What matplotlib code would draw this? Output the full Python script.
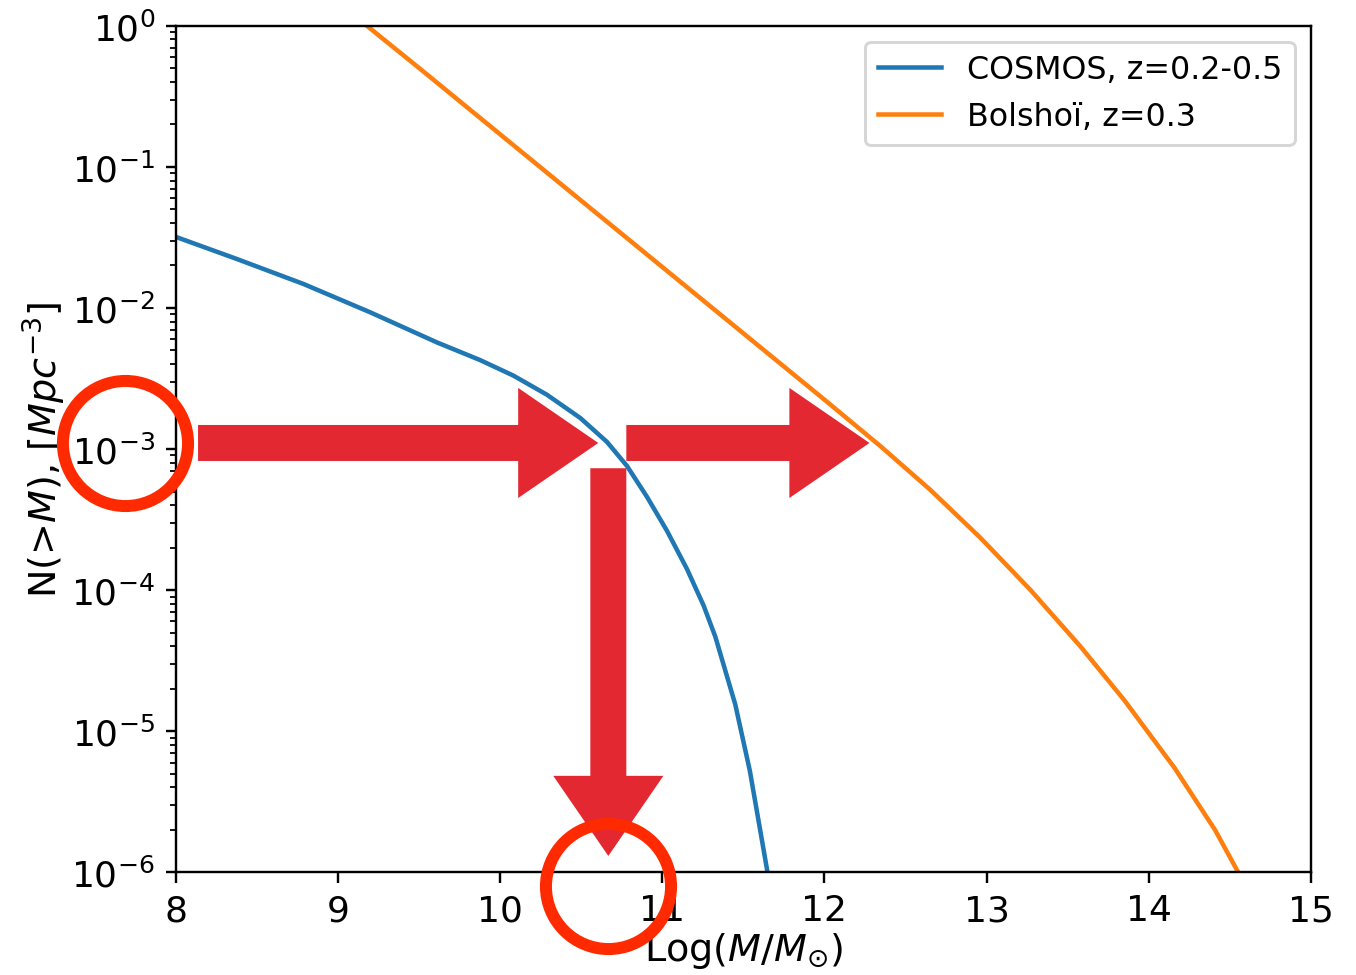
import numpy as np
import matplotlib
matplotlib.use("Agg")
from matplotlib import pyplot as plt
from matplotlib.patches import FancyArrowPatch

# cumulative number density, log10 values
cosmos_logm = [8.0, 8.375, 8.786, 9.198, 9.609, 9.877, 10.082, 10.288, 10.494, 10.659,
               10.782, 10.906, 11.029, 11.152, 11.255, 11.327, 11.45, 11.54, 11.646, 11.70]
cosmos_logn = [-1.497, -1.653, -1.830, -2.031, -2.244, -2.37, -2.48, -2.615, -2.78, -2.95,
               -3.12, -3.34, -3.58, -3.85, -4.11, -4.33, -4.81, -5.28, -5.98, -6.35]

bolshoi_logm = [9.0, 9.177, 9.5, 10.0, 10.5, 11.0, 11.5, 12.0, 12.346, 12.654,
                12.963, 13.272, 13.58, 13.85, 14.16, 14.41, 14.548, 14.65]
bolshoi_logn = [0.165, 0.0, -0.30, -0.77, -1.24, -1.71, -2.18, -2.65, -2.98, -3.29,
                -3.63, -4.00, -4.40, -4.78, -5.26, -5.70, -5.99, -6.22]

labels = ["COSMOS, z=0.2-0.5", "Bolshoï, z=0.3"]

# annotation positions (data units)
level = 10 ** -2.957
arrow_right1 = (8.136, 10.605)
arrow_right2 = (10.778, 12.278)
arrow_down_x = 10.667
arrow_down_y = (10 ** -3.136, 10 ** -5.884)
circle_pts = [(7.685, level), (10.667, 10 ** -6.10)]

DPI = 216
fig = plt.figure(figsize=(1356 / DPI, 976 / DPI), dpi=DPI)
ax = fig.add_axes([0.1298, 0.1052, 0.8368, 0.8674])

ax.plot(cosmos_logm, 10 ** np.array(cosmos_logn), color="C0", lw=1.5, label=labels[0])
ax.plot(bolshoi_logm, 10 ** np.array(bolshoi_logn), color="C1", lw=1.5, label=labels[1])

ax.set_yscale("log")
ax.set_xlim(8, 15)
ax.set_ylim(1e-6, 1)
ax.set_xticks(range(8, 16))
ax.tick_params(labelsize=12)
ax.set_xlabel(r"Log($M/M_{\odot}$)", fontsize=12.7, labelpad=1)
ax.set_ylabel(r"N(>$M$), [$Mpc^{-3}$]", fontsize=12.7, labelpad=1)
ax.legend(loc="upper right", fontsize=10.6)

red = "#e32832"
style = "simple,head_length=26.7,head_width=36.7,tail_width=12"
arrows = [((arrow_right1[0], level), (arrow_right1[1], level)),
          ((arrow_right2[0], level), (arrow_right2[1], level)),
          ((arrow_down_x, arrow_down_y[0]), (arrow_down_x, arrow_down_y[1]))]
for tail, tip in arrows:
    ax.add_patch(FancyArrowPatch(tail, tip, arrowstyle=style, mutation_scale=1,
                                 shrinkA=0, shrinkB=0, color=red, lw=0,
                                 zorder=4, clip_on=False))

for cx, cy in circle_pts:
    ax.plot([cx], [cy], marker="o", ms=41.7, mfc="none", mec="#ff2a00",
            mew=4, clip_on=False, zorder=5)

fig.savefig("out.png", dpi=DPI)
